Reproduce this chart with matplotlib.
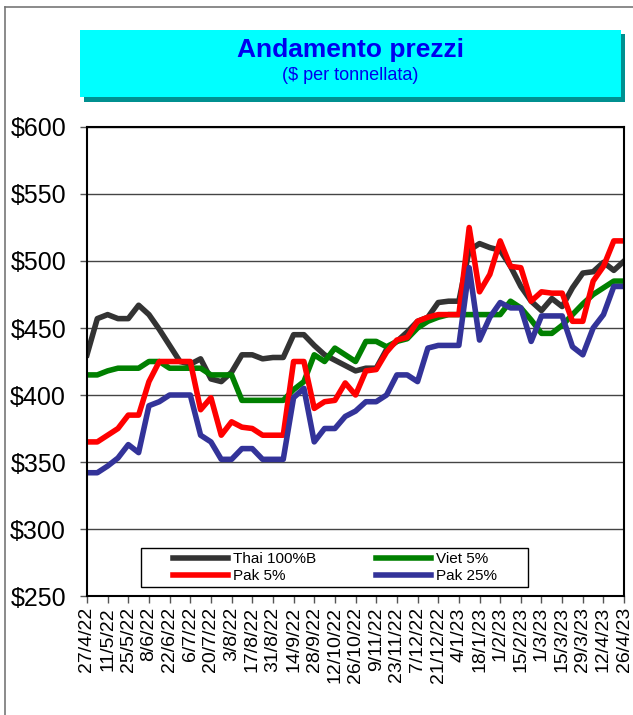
import matplotlib
matplotlib.use("Agg")
import matplotlib.pyplot as plt
from matplotlib.patches import Rectangle
from matplotlib.lines import Line2D

plt.rcParams['font.family'] = ['Liberation Sans', 'DejaVu Sans']

# date settimanali, etichetta ogni 2 settimane
etichette = ["27/4/22", "11/5/22", "25/5/22", "8/6/22", "22/6/22", "6/7/22", "20/7/22",
             "3/8/22", "17/8/22", "31/8/22", "14/9/22", "28/9/22", "12/10/22", "26/10/22",
             "9/11/22", "23/11/22", "7/12/22", "21/12/22", "4/1/23", "18/1/23", "1/2/23",
             "15/2/23", "1/3/23", "15/3/23", "29/3/23", "12/4/23", "26/4/23"]
settimane = list(range(53))

thai = [430, 457, 460, 457, 457, 467, 460, 449, 437, 425, 423, 427, 412, 410, 417, 430,
        430, 427, 428, 428, 445, 445, 437, 430, 426, 422, 418, 420, 420, 434, 440, 447,
        455, 458, 469, 470, 470, 508, 513, 510, 508, 496, 481, 470, 463, 472, 466, 480,
        491, 492, 499, 493, 500]
viet = [415, 415, 418, 420, 420, 420, 425, 425, 420, 420, 420, 420, 415, 415, 415, 396,
        396, 396, 396, 396, 404, 410, 430, 425, 435, 430, 425, 440, 440, 436, 440, 442,
        450, 455, 458, 460, 460, 460, 460, 460, 460, 470, 465, 456, 446, 446, 452, 460,
        468, 475, 480, 485, 485]
pak5 = [365, 365, 370, 375, 385, 385, 410, 425, 425, 425, 425, 389, 398, 370, 380, 376,
        375, 370, 370, 370, 425, 425, 390, 395, 396, 409, 400, 418, 419, 432, 441, 443,
        455, 458, 460, 460, 460, 525, 477, 490, 515, 496, 495, 470, 477, 476, 476, 455,
        455, 485, 496, 515, 515]
pak25 = [342, 342, 347, 353, 363, 357, 392, 395, 400, 400, 400, 370, 365, 352, 352, 360,
         360, 352, 352, 352, 398, 405, 365, 375, 375, 384, 388, 395, 395, 400, 415, 415,
         410, 435, 437, 437, 437, 495, 441, 458, 469, 465, 465, 440, 459, 459, 459, 436,
         430, 450, 460, 481, 481]

fig = plt.figure(figsize=(6.33, 7.15), dpi=100)

# cornice esterna (solo lati visibili)
fig.add_artist(Line2D([0.008, 0.008], [0.0, 0.99], transform=fig.transFigure,
                      color='#777777', lw=1.2))
fig.add_artist(Line2D([0.008, 1.0], [0.99, 0.99], transform=fig.transFigure,
                      color='#777777', lw=1.2))
# box titolo con ombra
fig.patches.append(Rectangle((0.132, 0.858), 0.855, 0.094, transform=fig.transFigure,
                             facecolor='#009090', edgecolor='none'))
fig.patches.append(Rectangle((0.126, 0.864), 0.855, 0.094, transform=fig.transFigure,
                             facecolor='#00FFFF', edgecolor='none'))
fig.text(0.553, 0.930, "Andamento prezzi", ha='center', va='center',
         fontsize=19, fontweight='bold', color='#0000EE')
fig.text(0.553, 0.894, "($ per tonnellata)", ha='center', va='center',
         fontsize=13, color='#0000EE')

ax = fig.add_axes([0.1374, 0.1664, 0.8486, 0.656])
l1, = ax.plot(settimane, thai, color='#333333', lw=4, label='Thai 100%B')
l2, = ax.plot(settimane, viet, color='#008000', lw=4, label='Viet 5%')
l3, = ax.plot(settimane, pak5, color='#FF0000', lw=4, label='Pak 5%')
l4, = ax.plot(settimane, pak25, color='#333399', lw=4, label='Pak 25%')

ax.set_xlim(0, 52)
ax.set_ylim(250, 600)
ax.set_yticks(range(250, 601, 50))
ax.set_yticklabels(["$%d" % v for v in range(250, 601, 50)], fontsize=18)
ax.set_xticks(settimane[::2])
ax.set_xticklabels(etichette, rotation=90, fontsize=14)
ax.tick_params(axis='both', direction='out', length=5, width=1, color='#555555')
ax.tick_params(axis='y', pad=10)
ax.tick_params(axis='x', pad=3)
ax.yaxis.grid(True, color='#444444', linewidth=1)
ax.set_axisbelow(True)
for s in ax.spines.values():
    s.set_linewidth(1.5)
    s.set_color('black')

# riquadro legenda
ax.add_patch(Rectangle((0.1006, 0.019), 0.72, 0.083, transform=ax.transAxes,
                       facecolor='white', edgecolor='black', lw=1, zorder=5))
leg = ax.legend([l1, l3, l2, l4], ['Thai 100%B', 'Pak 5%', 'Viet 5%', 'Pak 25%'],
                ncol=2, loc='center left', bbox_to_anchor=(0.16, 0.0605),
                borderaxespad=0, borderpad=0, fontsize=11, handlelength=3.6,
                handletextpad=0.33, columnspacing=3.9, labelspacing=0.2,
                frameon=False)
leg.set_zorder(6)

plt.savefig("out.png", dpi=100)
